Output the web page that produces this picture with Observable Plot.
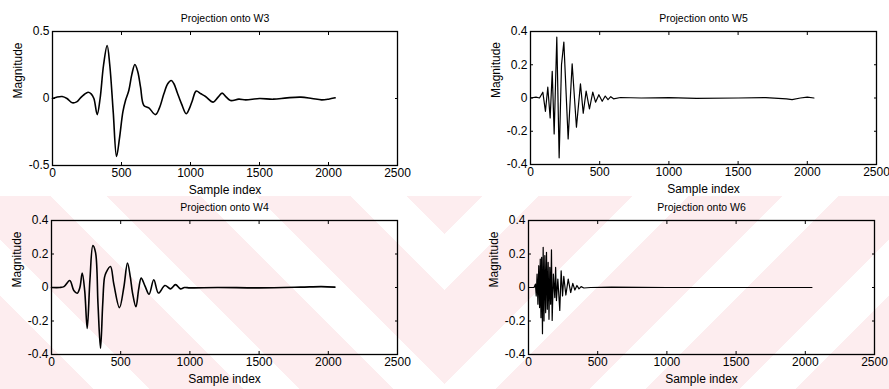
<!DOCTYPE html>
<html>
<head>
<meta charset="utf-8">
<script src="https://cdn.jsdelivr.net/npm/d3@7"></script>
<script src="https://cdn.jsdelivr.net/npm/@observablehq/plot@0.6"></script>
<style>
  html, body { margin: 0; padding: 0; background: #fff; }
  #wrap { position: relative; width: 889px; height: 389px; overflow: hidden; background: #fff; }
  .wm { position: absolute; top: 196px; height: 193px; }
  #wmL { left: 0; width: 445px; background: repeating-linear-gradient(45deg, #fdedef 0 66px, rgba(255,255,255,0) 66px 106px); }
  #wmR { left: 445px; width: 444px; background: repeating-linear-gradient(-45deg, #fdedef 0 66px, rgba(255,255,255,0) 66px 106px); }
  .panel { position: absolute; }
</style>
</head>
<body>
<div id="wrap">
  <div class="wm" id="wmL"></div>
  <div class="wm" id="wmR"></div>
</div>
<script>
// ---- data ----
const xTicks = [0, 500, 1000, 1500, 2000, 2500];
const yTicksW3 = [-0.5, 0, 0.5];
const yTicks04 = [-0.4, -0.2, 0, 0.2, 0.4];
const xLabel = "Sample index";
const yLabel = "Magnitude";

const w3Index = [0, 30, 70, 105, 143, 175, 203, 230, 258, 280, 300, 324, 345, 370, 396, 415, 440, 464, 485, 510, 529, 553, 575, 597, 618, 638, 662, 698, 746, 775, 807, 835, 860, 880, 903, 935, 969, 990, 1012, 1041, 1075, 1109, 1164, 1200, 1229, 1260, 1290, 1350, 1400, 1500, 1600, 1700, 1800, 1880, 1950, 2000, 2048];
const w3Value = [0, 0.01, 0.015, 0.0, -0.032, -0.025, 0.005, 0.03, 0.047, 0.035, 0.0, -0.12, 0.0, 0.25, 0.395, 0.25, -0.1, -0.433, -0.3, -0.1, -0.015, 0.06, 0.18, 0.254, 0.2, 0.085, -0.052, -0.07, -0.12, -0.07, 0.035, 0.11, 0.134, 0.11, 0.047, -0.04, -0.114, -0.08, -0.02, 0.055, 0.035, 0.015, -0.027, 0.01, 0.04, 0.01, -0.015, -0.005, -0.01, 0.0, -0.005, 0.005, 0.01, 0.0, -0.01, -0.005, 0.005];

const w5Index = [0, 40, 65, 89, 108, 125, 142, 157, 171, 190, 207, 224, 241, 272, 301, 332, 361, 381, 402, 426, 450, 470, 494, 518, 540, 560, 580, 600, 650, 800, 1000, 1200, 1500, 1700, 1850, 1890, 1950, 2000, 2048];
const w5Value = [0, 0.005, 0.0, 0.035, -0.08, 0.065, -0.12, 0.16, -0.216, 0.366, -0.36, 0.2, 0.336, -0.246, 0.206, -0.176, 0.085, -0.092, 0.041, -0.065, 0.035, -0.025, 0.02, -0.02, 0.012, -0.01, 0.008, -0.005, 0.003, 0, 0.002, -0.002, 0, 0.002, -0.005, -0.01, 0.0, 0.005, 0.0];

const w4Index = [0, 60, 90, 132, 161, 186, 205, 222, 240, 258, 278, 299, 318, 336, 354, 370, 383, 395, 426, 450, 491, 523, 549, 570, 585, 610, 630, 648, 675, 705, 739, 773, 820, 860, 896, 932, 960, 1000, 1200, 1500, 1800, 1950, 2048];
const w4Value = [0, 0.0, 0.005, 0.042, -0.018, -0.034, 0.0, 0.086, -0.02, -0.245, 0.05, 0.25, 0.21, -0.1, -0.363, -0.1, 0.06, 0.09, 0.125, 0.022, -0.12, 0.003, 0.146, 0.06, -0.03, -0.115, -0.01, 0.056, 0.01, -0.04, 0.046, -0.033, 0.012, -0.008, 0.017, -0.008, 0.0, -0.002, 0.0, -0.002, 0.002, 0.005, 0.002];

const w6Index = [0, 40, 50, 56, 62, 68, 74, 80, 85, 90, 95, 101, 106, 112, 118, 124, 130, 136, 142, 148, 154, 160, 166, 171, 180, 190, 196, 202, 212, 226, 236, 246, 255, 270, 287, 305, 320, 335, 350, 365, 380, 400, 450, 600, 1000, 1500, 2048];
const w6Value = [0, 0.0, 0.02, -0.05, 0.08, -0.1, 0.13, -0.12, 0.17, -0.18, 0.18, -0.276, 0.24, -0.2, 0.19, -0.15, 0.21, -0.13, 0.15, -0.19, 0.12, -0.1, 0.225, -0.197, 0.08, -0.06, 0.12, -0.078, 0.05, -0.137, 0.1, -0.05, 0.066, -0.045, 0.05, -0.03, 0.025, -0.015, 0.012, -0.008, 0.005, -0.003, 0, 0.002, 0, 0, 0];

// ---- drawing ----
const fmt = d => String(d);
function panel(opts) {
  const data = opts.index.map((x, i) => ({x, v: opts.value[i]}));
  const chart = Plot.plot({
    width: opts.w, height: opts.h,
    marginLeft: opts.mL, marginRight: opts.mR, marginTop: opts.mT, marginBottom: opts.mB,
    style: {fontFamily: "'Liberation Sans', Arial, sans-serif", fontSize: "12px", background: "transparent", overflow: "visible", color: "#000"},
    x: {domain: [0, 2500]},
    y: {domain: opts.yDomain},
    marks: [
      Plot.lineY(data, {x: "x", y: "v", stroke: "#000", strokeWidth: opts.sw, curve: opts.curve}),
      Plot.frame({stroke: "#000", strokeWidth: 1.3}),
      Plot.axisX({anchor: "bottom", ticks: xTicks, tickSize: -3, tickFormat: () => "", label: null}),
      Plot.axisX({anchor: "top", ticks: xTicks, tickSize: -3, tickFormat: () => "", label: null}),
      Plot.axisY({anchor: "left", ticks: opts.yTicks, tickSize: -3, tickFormat: () => "", label: null}),
      Plot.axisY({anchor: "right", ticks: opts.yTicks, tickSize: -3, tickFormat: () => "", label: null}),
      Plot.axisX({anchor: "bottom", ticks: xTicks, tickSize: 0, tickPadding: 3, tickFormat: fmt, label: null, fontSize: 12}),
      Plot.axisY({anchor: "left", ticks: opts.yTicks, tickSize: 0, tickPadding: 3, tickFormat: fmt, label: null, fontSize: 12}),
      Plot.text([opts.title], {text: d => d, frameAnchor: "top", dy: -10, lineAnchor: "bottom", fontSize: 10.5}),
      Plot.text([xLabel], {text: d => d, frameAnchor: "bottom", dy: 25, lineAnchor: "middle", fontSize: 12}),
      Plot.text([yLabel], {text: d => d, frameAnchor: "left", dx: -34, rotate: -90, lineAnchor: "middle", fontSize: 12})
    ]
  });
  const div = document.createElement("div");
  div.className = "panel";
  div.style.left = opts.left + "px";
  div.style.top = opts.top + "px";
  div.appendChild(chart);
  document.getElementById("wrap").appendChild(div);
}

panel({index: w3Index, value: w3Value, yDomain: [-0.5, 0.5], yTicks: yTicksW3, title: "Projection onto W3",
  curve: "catmull-rom", sw: 1.6, left: 0, top: 0, w: 445, h: 195, mL: 52, mR: 48, mT: 31, mB: 30});
panel({index: w5Index, value: w5Value, yDomain: [-0.4, 0.4], yTicks: yTicks04, title: "Projection onto W5",
  curve: "linear", sw: 1.2, left: 445, top: 0, w: 444, h: 195, mL: 85, mR: 13, mT: 31, mB: 31});
panel({index: w4Index, value: w4Value, yDomain: [-0.4, 0.4], yTicks: yTicks04, title: "Projection onto W4",
  curve: "catmull-rom", sw: 1.6, left: 0, top: 195, w: 445, h: 194, mL: 51, mR: 48, mT: 25, mB: 35});
panel({index: w6Index, value: w6Value, yDomain: [-0.4, 0.4], yTicks: yTicks04, title: "Projection onto W6",
  curve: "linear", sw: 1.2, left: 445, top: 195, w: 444, h: 194, mL: 83, mR: 15, mT: 25, mB: 35});
</script>
</body>
</html>
